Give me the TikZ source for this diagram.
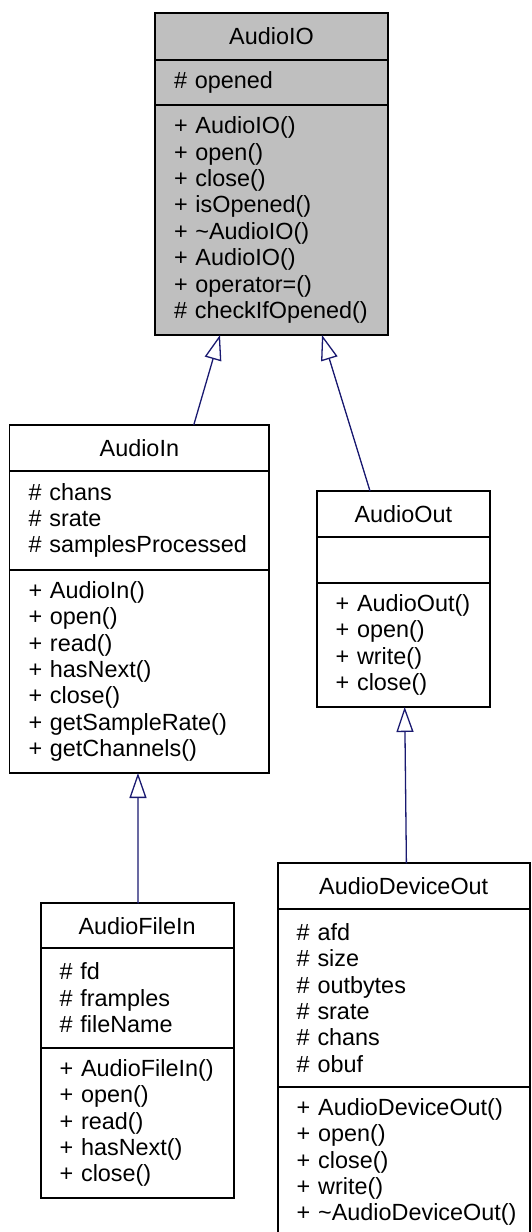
\documentclass[tikz,border=0pt]{standalone}
\usepackage{fontspec}
\setmainfont{Liberation Sans}
\usetikzlibrary{positioning,arrows.meta}

\definecolor{edgeblue}{RGB}{25,25,112}
\definecolor{basegray}{RGB}{191,191,191}

\begin{document}
\begin{tikzpicture}[x=0.5pt, y=-0.5pt,
    clsbox/.style={draw=black, line width=0.9pt, outer sep=0pt,
      inner xsep=9.5pt, inner ysep=0pt, anchor=north, align=left,
      font=\fontsize{11.7}{13.2}\selectfont},
    inherit/.style={draw=edgeblue, line width=0.65pt,
      -{Triangle[open, length=12.5pt, width=8.5pt]}}]

  \useasboundingbox (0, 0) rectangle (531, 1232);
  \clip (0, 0) rectangle (531, 1232);

  \node[clsbox, fill=basegray, text width=97.5pt, minimum height=23.5pt, align=center]
    (ioName) at (271.5, 13) {AudioIO};
  \node[clsbox, fill=basegray, text width=97.5pt, minimum height=22.5pt, below=0pt of ioName]
    (ioAttr) {\#~opened};
  \node[clsbox, fill=basegray, text width=97.5pt, minimum height=115pt, below=0pt of ioAttr]
    (ioOps) {+~AudioIO()\\ +~open()\\ +~close()\\ +~isOpened()\\
      +~\textasciitilde AudioIO()\\ +~AudioIO()\\ +~operator=()\\ \#~checkIfOpened()};

  \node[clsbox, text width=110.85pt, minimum height=23pt, align=center]
    (inName) at (139.35, 425) {AudioIn};
  \node[clsbox, text width=110.85pt, minimum height=49.5pt, below=0pt of inName]
    (inAttr) {\#~chans\\ \#~srate\\ \#~samplesProcessed};
  \node[clsbox, text width=110.85pt, minimum height=101.5pt, below=0pt of inAttr]
    (inOps) {+~AudioIn()\\ +~open()\\ +~read()\\ +~hasNext()\\ +~close()\\
      +~getSampleRate()\\ +~getChannels()};

  \node[clsbox, text width=67.7pt, minimum height=23pt, align=center]
    (outName) at (403.3, 491) {AudioOut};
  \node[clsbox, text width=67.7pt, minimum height=23pt, below=0pt of outName]
    (outAttr) {};
  \node[clsbox, text width=67.7pt, minimum height=62pt, below=0pt of outAttr]
    (outOps) {+~AudioOut()\\ +~open()\\ +~write()\\ +~close()};

  \node[clsbox, text width=77.5pt, minimum height=22.5pt, align=center]
    (fiName) at (137.1, 903.3) {AudioFileIn};
  \node[clsbox, text width=77.5pt, minimum height=49.7pt, below=0pt of fiName]
    (fiAttr) {\#~fd\\ \#~framples\\ \#~fileName};
  \node[clsbox, text width=77.5pt, minimum height=75.3pt, below=0pt of fiAttr]
    (fiOps) {+~AudioFileIn()\\ +~open()\\ +~read()\\ +~hasNext()\\ +~close()};

  \node[clsbox, text width=107pt, minimum height=23pt, align=center]
    (devName) at (403.7, 863.3) {AudioDeviceOut};
  \node[clsbox, text width=107pt, minimum height=88.7pt, below=0pt of devName]
    (devAttr) {\#~afd\\ \#~size\\ \#~outbytes\\ \#~srate\\ \#~chans\\ \#~obuf};
  \node[clsbox, text width=107pt, minimum height=75.3pt, below=0pt of devAttr]
    (devOps) {+~AudioDeviceOut()\\ +~open()\\ +~close()\\ +~write()\\
      \mbox{+ \textasciitilde AudioDeviceOut()}};

  \draw[inherit] ([xshift=27.2pt]inName.north) -- ([xshift=-25.75pt]ioOps.south);
  \draw[inherit] ([xshift=-16.65pt]outName.north) -- ([xshift=25.25pt]ioOps.south);
  \draw[inherit] ([xshift=0.5pt]fiName.north) -- ([xshift=-0.7pt]inOps.south);
  \draw[inherit] ([xshift=1.35pt]devName.north) -- ([xshift=0.7pt]outOps.south);

\end{tikzpicture}
\end{document}
